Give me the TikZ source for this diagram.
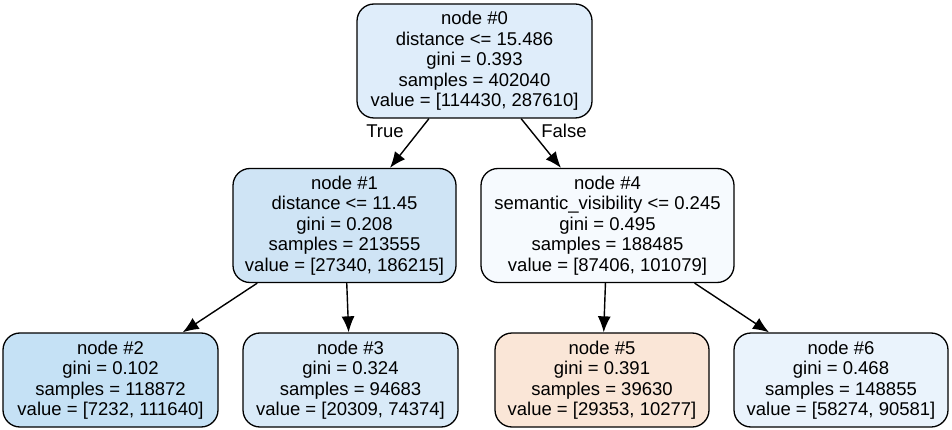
\documentclass[tikz,border=0pt]{standalone}
\usepackage{fontspec}
\setmainfont{Liberation Sans}
\usetikzlibrary{arrows.meta}
\definecolor{rootblue}{HTML}{DFEDFA}
\definecolor{leftblue}{HTML}{CFE4F5}
\definecolor{deepblue}{HTML}{C5E1F5}
\definecolor{paleblue}{HTML}{D9EAF8}
\definecolor{whiteblue}{HTML}{F6FAFE}
\definecolor{peach}{HTML}{FAE6D7}
\definecolor{mistblue}{HTML}{EAF3FC}

\begin{document}
\begin{tikzpicture}[x=1pt,y=-1pt,>={Latex[length=16pt,width=13pt]},
    treebox/.style={draw,rounded corners=17pt,line width=1.3pt,align=center,inner sep=0pt,
        font=\fontsize{18.5}{20.5}\selectfont},
    splitbox/.style={treebox,minimum height=114pt},
    leafbox/.style={treebox,minimum height=94pt},
    edge/.style={->,line width=1.4pt},
    branch/.style={font=\fontsize{18.5}{20.5}\selectfont}]
        \useasboundingbox (0,0) rectangle (952,430);
        \node[splitbox,fill=rootblue,minimum width=235pt] (n0) at (474.5,61) {node \#0\\distance <= 15.486\\gini = 0.393\\samples = 402040\\value = [114430, 287610]};
        \node[splitbox,fill=leftblue,minimum width=223pt] (n1) at (344.5,225.5) {node \#1\\distance <= 11.45\\gini = 0.208\\samples = 213555\\value = [27340, 186215]};
        \node[splitbox,fill=whiteblue,minimum width=253pt] (n4) at (607.5,225.5) {node \#4\\semantic\_visibility <= 0.245\\gini = 0.495\\samples = 188485\\value = [87406, 101079]};
        \node[leafbox,fill=deepblue,minimum width=215pt] (n2) at (110.5,380) {node \#2\\gini = 0.102\\samples = 118872\\value = [7232, 111640]};
        \node[leafbox,fill=paleblue,minimum width=215pt] (n3) at (350.5,380) {node \#3\\gini = 0.324\\samples = 94683\\value = [20309, 74374]};
        \node[leafbox,fill=peach,minimum width=214pt] (n5) at (602,380) {node \#5\\gini = 0.391\\samples = 39630\\value = [29353, 10277]};
        \node[leafbox,fill=mistblue,minimum width=214pt] (n6) at (841,380) {node \#6\\gini = 0.468\\samples = 148855\\value = [58274, 90581]};
        \draw[edge] (n0) -- (n1);
        \draw[edge] (n0) -- (n4);
        \draw[edge] (n1) -- (n2);
        \draw[edge] (n1) -- (n3);
        \draw[edge] (n4) -- (n5);
        \draw[edge] (n4) -- (n6);
        \node[branch] (true) at (385,131) {True};
        \node[branch] (false) at (564,131) {False};
    \end{tikzpicture}
\end{document}
